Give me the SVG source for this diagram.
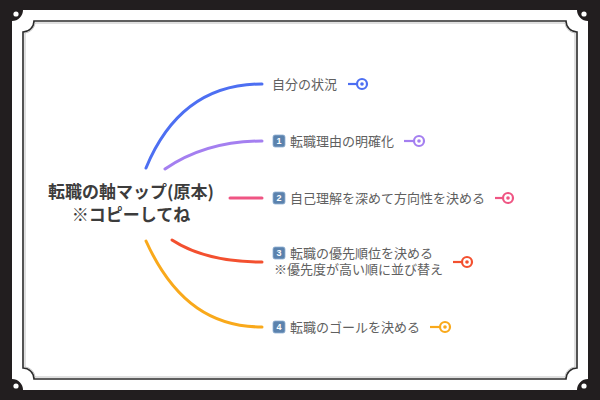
<svg xmlns="http://www.w3.org/2000/svg" width="600" height="400" viewBox="0 0 600 400">
<defs>
<style>
.lbl{font-family:"Noto Sans CJK JP","Noto Sans",sans-serif;font-size:13px;fill:#606060}
.ctr{font-family:"Noto Sans CJK JP","Noto Sans",sans-serif;font-size:17px;font-weight:bold;fill:#3c3c3c}
.br{fill:none;stroke-width:3;stroke-linecap:round}
.mk{fill:#fff;stroke-width:2.2}
.key{fill:#5b82ad;stroke:#8fb0d3;stroke-width:0.8}
.kn{font-family:"Liberation Sans",sans-serif;font-size:9px;font-weight:bold;fill:#fff}
</style>
</defs>
<rect x="0" y="0" width="600" height="400" fill="#221e1f"/>
<path d="M 23 10 H 577 A 11 11 0 0 0 588 21 V 379 A 11 11 0 0 0 577 390 H 23 A 11 11 0 0 0 12 379 V 21 A 11 11 0 0 0 23 10 Z" fill="#fff"/>
<g fill="#fff">
<circle cx="16" cy="14" r="2.6"/><circle cx="584" cy="14" r="2.6"/><circle cx="16" cy="386" r="2.6"/><circle cx="584" cy="386" r="2.6"/>
</g>
<path d="M 34 21 H 566 A 11 11 0 0 0 577 32 V 368 A 11 11 0 0 0 566 379 H 34 A 11 11 0 0 0 23 368 V 32 A 11 11 0 0 0 34 21 Z" fill="none" stroke="#2a2a2a" stroke-width="1.6"/>
<path d="M 35 23 H 565 A 11 11 0 0 0 575 33 V 367 A 11 11 0 0 0 565 377 H 35 A 11 11 0 0 0 25 367 V 33 A 11 11 0 0 0 35 23 Z" fill="none" stroke="#b0b0b0" stroke-width="0.8"/>

<g id="connectors">
<path class="br" stroke="#4d6ff2" d="M 146 168 C 170 110 210 84 262 84"/>
<path class="br" stroke="#a47ff0" d="M 165 169 C 190 152 220 141 262 141"/>
<path class="br" stroke="#ef5583" d="M 230 198 L 262 198"/>
<path class="br" stroke="#f3502f" d="M 172 240 C 195 255 225 262 262 262"/>
<path class="br" stroke="#f9a91b" d="M 146 241 C 175 305 215 327 262 327"/>
</g>

<g id="root">
<text class="ctr" x="131" y="197.5" text-anchor="middle">転職の軸マップ(原本)</text>
<text class="ctr" x="131" y="221" text-anchor="middle">※コピーしてね</text>
</g>

<g id="n0">
<text class="lbl" x="272" y="89">自分の状況</text>
<line x1="348" y1="84" x2="357" y2="84" stroke="#4d6ff2" stroke-width="2.2"/>
<circle class="mk" cx="362" cy="84" r="5" stroke="#4d6ff2"/>
<circle cx="362" cy="84" r="1.8" fill="#4d6ff2"/>
</g>

<g id="n1">
<rect class="key" x="273" y="135" width="12" height="12" rx="2"/>
<text class="kn" x="279" y="144.3" text-anchor="middle">1</text>
<text class="lbl" x="290" y="146">転職理由の明確化</text>
<line x1="404" y1="141" x2="414" y2="141" stroke="#a47ff0" stroke-width="2.2"/>
<circle class="mk" cx="419" cy="141" r="5" stroke="#a47ff0"/>
<circle cx="419" cy="141" r="1.8" fill="#a47ff0"/>
</g>

<g id="n2">
<rect class="key" x="273" y="192" width="12" height="12" rx="2"/>
<text class="kn" x="279" y="201.3" text-anchor="middle">2</text>
<text class="lbl" x="290" y="203">自己理解を深めて方向性を決める</text>
<line x1="495" y1="198" x2="503" y2="198" stroke="#ef5583" stroke-width="2.2"/>
<circle class="mk" cx="508" cy="198" r="5" stroke="#ef5583"/>
<circle cx="508" cy="198" r="1.8" fill="#ef5583"/>
</g>

<g id="n3">
<rect class="key" x="273" y="247" width="12" height="12" rx="2"/>
<text class="kn" x="279" y="256.3" text-anchor="middle">3</text>
<text class="lbl" x="290" y="257.5">転職の優先順位を決める</text>
<text class="lbl" x="274" y="273.5">※優先度が高い順に並び替え</text>
<line x1="453" y1="262" x2="462" y2="262" stroke="#f3502f" stroke-width="2.2"/>
<circle class="mk" cx="467" cy="262" r="5" stroke="#f3502f"/>
<circle cx="467" cy="262" r="1.8" fill="#f3502f"/>
</g>

<g id="n4">
<rect class="key" x="273" y="321" width="12" height="12" rx="2"/>
<text class="kn" x="279" y="330.3" text-anchor="middle">4</text>
<text class="lbl" x="290" y="332">転職のゴールを決める</text>
<line x1="430" y1="327" x2="440" y2="327" stroke="#f9a91b" stroke-width="2.2"/>
<circle class="mk" cx="445" cy="327" r="5" stroke="#f9a91b"/>
<circle cx="445" cy="327" r="1.8" fill="#f9a91b"/>
</g>
</svg>
